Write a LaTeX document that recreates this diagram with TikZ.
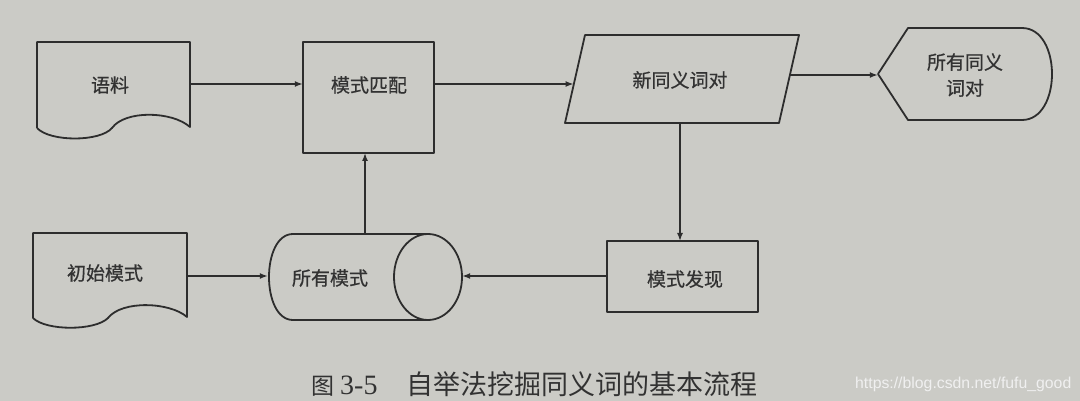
\documentclass[tikz,border=0pt]{standalone}
\usepackage{fontspec}
\newfontfamily\cjk[FakeBold=0.6]{Noto Sans CJK SC}
\newfontfamily\cjkcap{Noto Sans CJK SC}
\setmainfont{Liberation Serif}
\setsansfont{Liberation Sans}
\usetikzlibrary{arrows.meta}
\definecolor{paper}{RGB}{203,203,198}
\definecolor{ink}{RGB}{45,45,45}
\definecolor{txt}{RGB}{50,50,50}
\definecolor{wm}{RGB}{240,240,240}
\tikzset{
  box/.style={inner sep=0pt, draw=none},
  shape line/.style={draw=ink, line width=1.8pt, line join=round},
  lbl/.style={font=\cjk\fontsize{19}{23}\selectfont, text=txt, align=center, inner sep=0pt},
  conn/.style={draw=ink, line width=1.5pt, -{Latex[length=8pt,width=6pt]}},
}
\begin{document}
\begin{tikzpicture}[x=1pt,y=-1pt]
\fill[paper] (0,0) rectangle (1080,401);
\useasboundingbox (0,0) rectangle (1080,401);

% invisible anchor boxes
\node[box, minimum width=153pt, minimum height=86pt] (cor) at (113.5,85) {};
\node[box, minimum width=131pt, minimum height=111pt] (match) at (368.5,97.5) {};
\node[box, minimum width=234pt, minimum height=88pt] (new) at (682,79) {};
\node[box, minimum width=174pt, minimum height=92pt] (all) at (965,74) {};
\node[box, minimum width=154pt, minimum height=85pt] (init) at (110,275.5) {};
\node[box, minimum width=194pt, minimum height=86pt] (cyl) at (365,277) {};
\node[box, minimum width=151pt, minimum height=71pt] (find) at (682.5,276.5) {};

% 语料 document
\draw[shape line] (37,128) -- (37,42) -- (190,42) -- (190,127)
  .. controls (172,111) and (125,110) .. (112,128)
  .. controls (100,142) and (50,142) .. (37,128);
% 初始模式 document
\draw[shape line] (33,318) -- (33,233) -- (187,233) -- (187,317)
  .. controls (170,302) and (122,300) .. (108,318)
  .. controls (95,331) and (46,331) .. (33,318);
% 模式匹配
\draw[shape line] (match.north west) rectangle (match.south east);
% 新同义词对 parallelogram
\draw[shape line] (585,35) -- (799,35) -- (779,123) -- (565,123) -- cycle;
% 所有同义词对 display
\draw[shape line] (878,74) -- (908,28) -- (1022,28)
  .. controls (1062,28) and (1062,120) .. (1022,120) -- (908,120) -- cycle;
% 所有模式 cylinder
\draw[shape line] (428,234) -- (293,234)
  .. controls (261,234) and (261,320) .. (293,320) -- (428,320);
\draw[shape line] (428,277) ellipse [x radius=34, y radius=43];
% 模式发现
\draw[shape line] (find.north west) rectangle (find.south east);

% texts
\node[lbl] (corT) at (110,85) {语料};
\node[lbl] (matchT) at (369,85) {模式匹配};
\node[lbl] (newT) at (680,80) {新同义词对};
\node[lbl, font=\cjk\fontsize{19}{26}\selectfont] (allT) at (965,75) {所有同义\\词对};
\node[lbl] (initT) at (105,273) {初始模式};
\node[lbl] (cylT) at (330,278) {所有模式};
\node[lbl] (findT) at (685,279) {模式发现};

% connectors
\coordinate (newL) at (573.6,84);
\coordinate (newR) at (790,75);
\draw[conn] (cor.east |- 0,84) -- (match.west |- 0,84);
\draw[conn] (match.east |- 0,84) -- (newL);
\draw[conn] (newR) -- (all.west |- 0,75);
\draw[conn] (680,123) -- (680,241);
\draw[conn] (find.west |- 0,276) -- (cyl.east |- 0,276);
\draw[conn] (init.east |- 0,276) -- (cyl.west |- 0,276);
\draw[conn] (365,234) -- (365,153);

% caption
\node[anchor=base west, inner sep=0pt, text=txt] (cap1) at (311,394)
  {\cjkcap\fontsize{23}{26}\selectfont 图};
\node[anchor=base west, inner sep=0pt, text=txt] (cap3) at (340,394)
  {\rmfamily\fontsize{28}{30}\selectfont 3-5};
\node[anchor=base west, inner sep=0pt, text=txt] (cap2) at (406,394)
  {\cjkcap\fontsize{27}{30}\selectfont 自举法挖掘同义词的基本流程};
\node[anchor=base west, inner sep=0pt, text=wm] (wmk) at (855,388)
  {\sffamily\fontsize{15.8}{18}\selectfont https://blog.csdn.net/fufu\_good};
\end{tikzpicture}
\end{document}
